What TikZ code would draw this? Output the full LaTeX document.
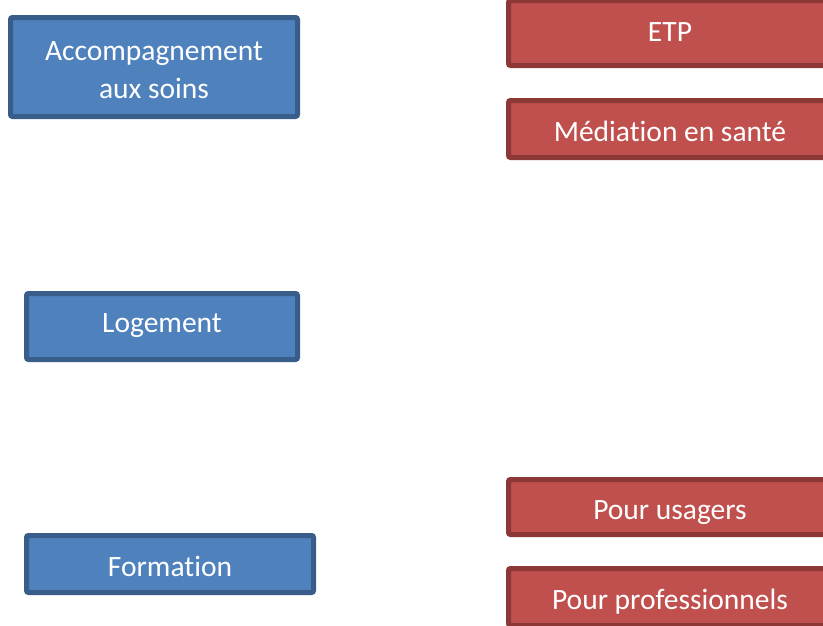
\documentclass[tikz,border=0pt]{standalone}
\usepackage{fontspec}
\setmainfont[Ligatures=NoCommon]{Carlito}
\definecolor{boxblue}{HTML}{4F81BD}
\definecolor{edgeblue}{HTML}{385D8A}
\definecolor{boxred}{HTML}{C0504D}
\definecolor{edgered}{HTML}{8C3836}
\begin{document}
\begin{tikzpicture} [x=1pt, y=-1pt,
                        bluebox/.style={draw=edgeblue, fill=boxblue, line width=5pt, rounded corners=2pt,
                            text=white, inner sep=0pt, align=center, text height=24pt, text depth=0pt,
                            font=\fontsize{29.5}{38}\selectfont},
                        redbox/.style={draw=edgered, fill=boxred, line width=5pt, rounded corners=2pt,
                            text=white, inner sep=0pt, align=center, text height=24pt, text depth=0pt,
                            font=\fontsize{29.5}{38}\selectfont, minimum width=323pt}]
                        \useasboundingbox (0,0) rectangle (823,625);
                        \clip (0,0) rectangle (823,625);

                        % Blue
                        \node [bluebox, minimum width=287pt, minimum height=99pt, text height=62pt] (soins) at (154,67) {Accompagnement\\aux soins};
                        \node [bluebox, minimum width=271pt, minimum height=66pt, text height=12.5pt] (logement) at (162,326.5) {Logement};
                        \node [bluebox, minimum width=287pt, minimum height=57pt] (formation) at (170,564) {Formation};

                        % Red
                        \node [redbox, minimum height=65pt, text height=17.5pt] (etp) at (670,33) {ETP};
                        \node [redbox, minimum height=57pt] (mediation) at (670,129) {Médiation en santé};
                        \node [redbox, minimum height=55pt] (usagers) at (670,507) {Pour usagers};
                        \node [redbox, minimum height=57pt] (pros) at (670,597) {Pour professionnels};
                    \end{tikzpicture}
\end{document}
